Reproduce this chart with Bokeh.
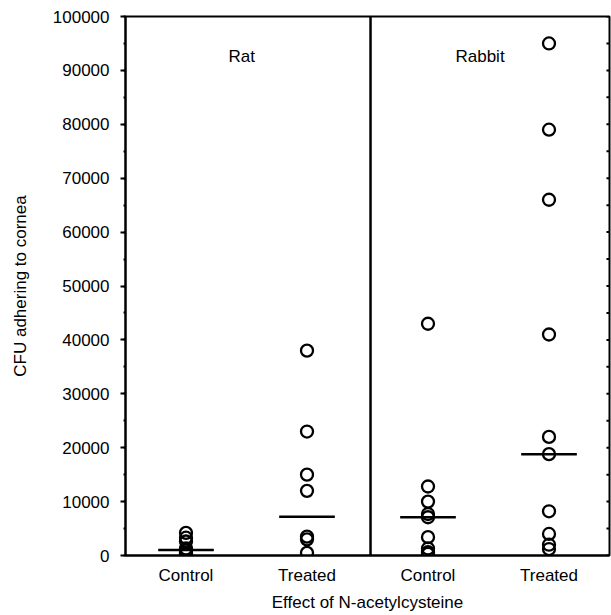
from bokeh.plotting import figure
from bokeh.models import (ColumnDataSource, FixedTicker, SingleIntervalTicker, Span, Range1d)
from bokeh.core.properties import value
from bokeh.embed import file_html
from bokeh.resources import INLINE

# ---- data ----
categories = ["Control", "Treated", "Control", "Treated"]
positions = [1, 2, 3, 4]
rat_control = [4200, 3300, 2600, 1300, 900, 500, 200]
rat_treated = [38000, 23000, 15000, 12000, 3500, 3000, 500]
rabbit_control = [43000, 12800, 10000, 7700, 7100, 3400, 1300, 600, 300]
rabbit_treated = [95000, 79000, 66000, 41000, 22000, 18800, 8200, 4000, 2000, 1200]
group_medians = [1000, 7200, 7100, 18800]
panel_names = ["Rat", "Rabbit"]
panel_label_x = [1.46, 3.43]
panel_label_y = [92500, 92500]
right_ticks = list(range(0, 100001, 5000))
divider_x = 2.525

FONT = "Liberation Sans"
FS = "17px"

p = figure(width=611, height=615, output_backend="svg", toolbar_location=None,
           x_range=Range1d(0.5, 4.5), y_range=Range1d(0, 100000),
           min_border_left=125, min_border_right=2, min_border_top=16, min_border_bottom=60)
p.xgrid.visible = False
p.ygrid.visible = False
p.outline_line_color = "black"
p.outline_line_width = 2
p.outline_line_alpha = 1

groups = [rat_control, rat_treated, rabbit_control, rabbit_treated]
xs, ys = [], []
for pos, vals in zip(positions, groups):
    xs += [pos] * len(vals)
    ys += vals
src = ColumnDataSource(dict(x=xs, y=ys))
p.scatter("x", "y", source=src, marker="circle", size=12, fill_color="white",
          fill_alpha=0, line_color="black", line_width=2.3)

half = 0.23
msrc = ColumnDataSource(dict(x0=[x - half for x in positions], x1=[x + half for x in positions],
                             y=group_medians))
p.segment(x0="x0", y0="y", x1="x1", y1="y", source=msrc, line_color="black", line_width=2.5)

p.add_layout(Span(location=divider_x, dimension="height", line_color="black", line_width=2.5))

# inward ticks on the right frame edge
rsrc = ColumnDataSource(dict(y=right_ticks))
p.segment(x0=4.5 - 0.025, y0="y", x1=4.5, y1="y", source=rsrc, line_color="black", line_width=2)

tsrc = ColumnDataSource(dict(x=panel_label_x, y=panel_label_y, t=panel_names))
p.text("x", "y", text="t", source=tsrc, text_font=value(FONT), text_font_size=FS,
       text_align="center", text_baseline="middle", text_color="black")

# y axis
ya = p.yaxis[0]
ya.ticker = SingleIntervalTicker(interval=10000, num_minor_ticks=2)
ya.axis_label = "CFU adhering to cornea"
ya.axis_label_text_font = FONT
ya.axis_label_text_font_style = "normal"
ya.axis_label_text_font_size = FS
ya.axis_label_text_color = "black"
ya.axis_label_standoff = 20
ya.major_label_text_font = FONT
ya.major_label_text_font_size = FS
ya.major_label_text_color = "black"
ya.major_label_standoff = 11
ya.major_tick_out = 5
ya.major_tick_in = 0
ya.minor_tick_out = 2
ya.minor_tick_in = 0
ya.axis_line_width = 2
ya.major_tick_line_width = 2
ya.minor_tick_line_width = 2
ya.formatter.use_scientific = False

# x axis
xa = p.xaxis[0]
xa.ticker = FixedTicker(ticks=positions)
xa.major_label_overrides = {pos: lab for pos, lab in zip(positions, categories)}
xa.axis_label = "Effect of N-acetylcysteine"
xa.axis_label_text_font = FONT
xa.axis_label_text_font_style = "normal"
xa.axis_label_text_font_size = FS
xa.axis_label_text_color = "black"
xa.axis_label_standoff = 5
xa.major_label_text_font = FONT
xa.major_label_text_font_size = FS
xa.major_label_text_color = "black"
xa.major_label_standoff = 10
xa.major_tick_out = 0
xa.major_tick_in = 0
xa.minor_tick_out = 0
xa.axis_line_width = 2

open("out.html", "w").write(file_html(p, INLINE))
